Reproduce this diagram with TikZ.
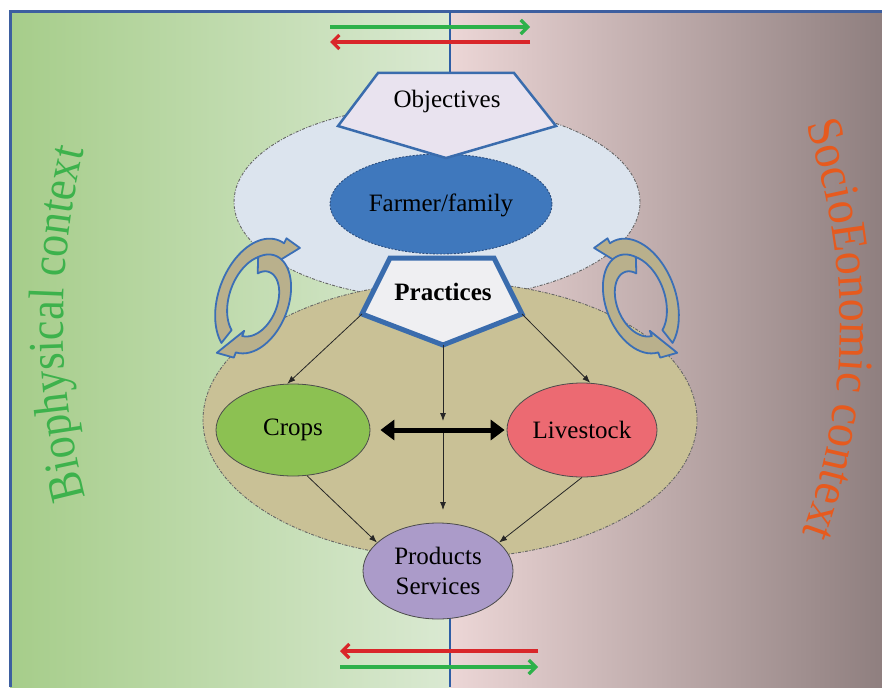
\documentclass[tikz,border=0pt]{standalone}
\usepackage{fontspec}
\setmainfont{Liberation Serif}
\newfontfamily\archleft[FakeStretch=0.88]{Liberation Serif}
\newfontfamily\archright[FakeStretch=0.92]{Liberation Serif}
\usetikzlibrary{shapes.geometric,arrows.meta,decorations.text,calc}

\definecolor{bgGreenA}{HTML}{A6CD8A}
\definecolor{bgGreenB}{HTML}{DAE9D2}
\definecolor{bgPinkA}{HTML}{ECD6D6}
\definecolor{bgPinkB}{HTML}{8F7F7F}
\definecolor{frameBlue}{HTML}{3D5FA0}
\definecolor{axisBlue}{HTML}{2E5DA5}
\definecolor{mgmtFill}{HTML}{DCE4EE}
\definecolor{prodFill}{HTML}{C9C196}
\definecolor{farmerFill}{HTML}{3F78BD}
\definecolor{farmerEdge}{HTML}{2D4F80}
\definecolor{cropsFill}{HTML}{8CC152}
\definecolor{stockFill}{HTML}{EC6A72}
\definecolor{outFill}{HTML}{AB9BC9}
\definecolor{objFill}{HTML}{E9E3EF}
\definecolor{pracFill}{HTML}{EFEFF2}
\definecolor{pentBlue}{HTML}{3A6CAD}
\definecolor{cycFill}{HTML}{B9B08C}
\definecolor{cycEdge}{HTML}{3B6FB6}
\definecolor{flowGreen}{HTML}{2DB14A}
\definecolor{flowRed}{HTML}{D9262A}
\definecolor{ctxGreen}{HTML}{3DB24C}
\definecolor{ctxOrange}{HTML}{E65A1E}

% curved block arrow along a spiral:
% tail angle, head-base angle, tail radius, head radius, tip angle, tip radius
\def\bw{5.5}
\def\bh{9}
\newcommand\spiralarrow[6]{%
  \filldraw[cycarrow]
    plot[domain={#1}:{#2}, samples=40, variable=\t]
      ({\t}:{#3+(#4-#3)*(\t-(#1))/((#2)-(#1))+\bw})
    -- ({#2}:{#4+\bh}) -- ({#5}:{#6}) -- ({#2}:{#4-\bh})
    -- plot[domain={#2}:{#1}, samples=40, variable=\t]
      ({\t}:{#3+(#4-#3)*(\t-(#1))/((#2)-(#1))-\bw})
    -- cycle;}

\begin{document}
\begin{tikzpicture}[x=1pt, y=-1pt,
  bigell/.style={ellipse, draw=black!60, line width=0.9pt,
    dash pattern=on 3pt off 1.5pt on 1pt off 1.5pt, inner sep=0pt},
  item/.style={ellipse, draw=black!70, line width=0.8pt, inner sep=0pt,
    font=\fontsize{25}{30}\selectfont},
  conn/.style={-{Latex[length=8pt,width=6pt]}, line width=0.8pt, draw=black!85},
  pent/.style={draw=pentBlue, line join=miter},
  cycarrow/.style={fill=cycFill, draw=cycEdge, line width=1.8pt, line join=round},
  flow/.style={line width=3.2pt, -{Straight Barb[length=7pt,width=14pt]}},
  lbl/.style={font=\fontsize{25}{30}\selectfont, inner sep=0pt}]

\useasboundingbox (0,0) rectangle (882,687);

% two contexts as horizontal gradients
\shade[left color=bgGreenA, right color=bgGreenB] (10,12) rectangle (450,687);
\shade[left color=bgPinkA, right color=bgPinkB] (450,12) rectangle (882,687);
\draw[frameBlue, line width=3pt] (10,687) -- (10,12) -- (882,12);
\draw[axisBlue, line width=2pt] (450,12) -- (450,687);

% flows between the two contexts
\coordinate (tl) at (330,27);  \coordinate (tr) at (530,27);
\coordinate (ul) at (330,42);  \coordinate (ur) at (530,42);
\coordinate (bl) at (340,651); \coordinate (br) at (538,651);
\coordinate (cl) at (340,667); \coordinate (cr) at (538,667);
\draw[flow, flowGreen] (tl) -- (tr);
\draw[flow, flowRed] (ur) -- (ul);
\draw[flow, flowRed] (br) -- (bl);
\draw[flow, flowGreen] (cl) -- (cr);

% management and production spheres
\node[bigell, fill=mgmtFill, minimum width=406pt, minimum height=194pt] (mgmt) at (437,202) {};
\node[bigell, fill=prodFill, minimum width=494pt, minimum height=276pt] (prod) at (450,420) {};

% cycling arrows on both sides
\begin{scope}[shift={(257,298)}, rotate=-20, yscale=1.6]
  \spiralarrow{118}{280}{33}{33}{301}{45}
  \spiralarrow{242}{452}{22}{31}{475}{45}
\end{scope}
\begin{scope}[shift={(637,298)}, xscale=-1, rotate=-20, yscale=1.6]
  \spiralarrow{118}{280}{33}{33}{301}{45}
  \spiralarrow{242}{452}{22}{31}{475}{45}
\end{scope}

% farmer and objectives
\node[ellipse, fill=farmerFill, draw=farmerEdge, line width=0.9pt,
  dash pattern=on 2pt off 1.5pt, minimum width=222pt, minimum height=100pt,
  inner sep=0pt] (farmer) at (441,204) {};
\node[lbl] (farmerTxt) at (441,205) {Farmer/family};

\coordinate (o1) at (378,73);  \coordinate (o2) at (514,73);
\coordinate (o3) at (556,126); \coordinate (o4) at (446,158);
\coordinate (o5) at (338,126);
\filldraw[pent, fill=objFill, line width=2.5pt] (o1) -- (o2) -- (o3) -- (o4) -- (o5) -- cycle;
\node[lbl] (objectives) at (447,101) {Objectives};

% practices
\coordinate (p1) at (390,258); \coordinate (p2) at (494,258);
\coordinate (pr) at (522,314); \coordinate (pb) at (443,345);
\coordinate (pl) at (362,314);
\filldraw[pent, fill=pracFill, line width=5pt] (p1) -- (p2) -- (pr) -- (pb) -- (pl) -- cycle;
\node[lbl, font=\fontsize{25}{30}\selectfont\bfseries] (practices) at (443,292) {Practices};

% production components
\node[item, fill=cropsFill, minimum width=154pt, minimum height=92pt] (crops) at (293,430) {Crops};
\node[item, fill=stockFill, minimum width=150pt, minimum height=94pt] (livestock) at (582,430) {Livestock};
\node[item, fill=outFill, minimum width=150pt, minimum height=96pt, align=center] (products) at (438,571)
  {Products\\Services};

% connectors
\coordinate (mid) at (443,421);
\coordinate (cross) at (443,432);
\coordinate (pin) at (443,510);
\draw[conn] (pl) -- (crops.97);
\draw[conn] (pr) -- (livestock.80);
\draw[conn] (pb) -- (mid);
\draw[conn] (cross) -- (pin);
\draw[conn] (crops.-73) -- (products.155);
\draw[conn] (livestock.-90) -- (products.25);
\draw[line width=5pt, {Triangle[length=14pt,width=20pt]}-{Triangle[length=14pt,width=20pt]},
  shorten <=10pt, shorten >=2pt] (crops.east) -- (livestock.west);

% context labels along arcs
\path[decorate, decoration={text along path, text align=center,
  text={|\archleft\fontsize{50}{50}\selectfont\color{ctxGreen}|Biophysical context}}]
  (86,497) .. controls (56,385) and (56,268) .. (84,150);
\path[decorate, decoration={text along path, text align=center,
  text={|\archright\fontsize{50}{50}\selectfont\color{ctxOrange}|SocioEonomic context}}]
  (806,124) .. controls (852,262) and (852,397) .. (802,534);
\end{tikzpicture}
\end{document}
